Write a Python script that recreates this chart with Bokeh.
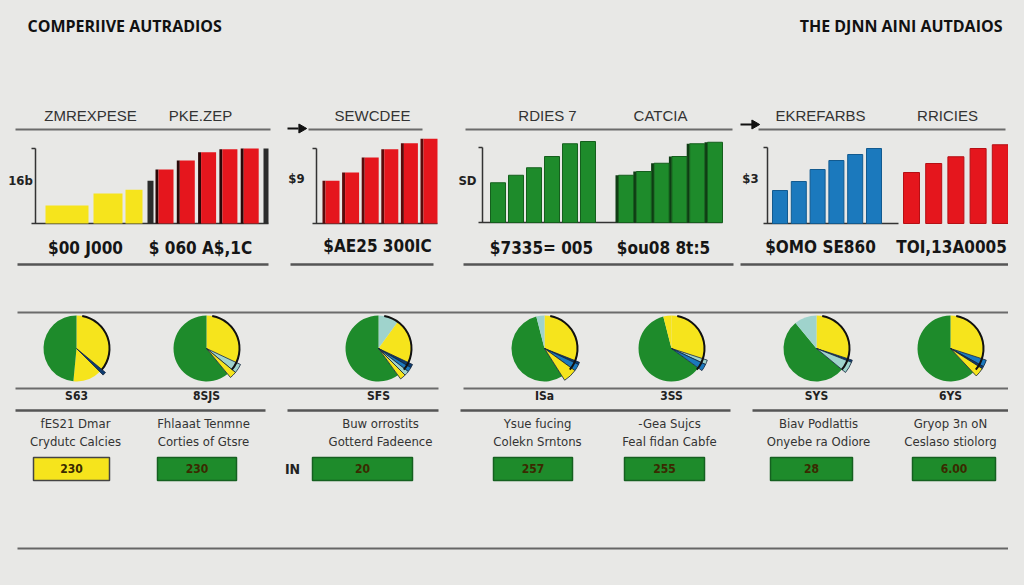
import math
from bokeh.plotting import figure
from bokeh.models import Range1d, GlobalInlineStyleSheet
from bokeh.core.properties import value
from bokeh.embed import file_html
from bokeh.resources import INLINE

# ---------------- data ----------------
title_left = "COMPERIIVE AUTRADIOS"
title_right = "THE DJNN AINI AUTDAIOS"

headers = ["ZMREXPESE", "PKE.ZEP", "SEWCDEE", "RDIES 7", "CATCIA", "EKREFARBS", "RRICIES"]
axis_labels = ["16b", "$9", "SD", "$3"]
value_labels = ["$00 J000", "$ 060 A$,1C", "$AE25 300IC", "$7335= 005",
                "$ou08 8t:5", "$OMO SE860", "TOI,13A0005"]

# bar values (each panel's axis top = 100)
p1_yellow = [24, 40, 45]
p1_dark = [57]
p1_red = [72, 84, 95, 99, 100]
p1_end = [100]
p2_red = [57, 68, 88, 99, 107, 113]
p3_green_a = [53, 63, 73, 88, 105, 108]
p3_green_b = [63, 68, 79, 88, 105, 107]
p4_blue = [44, 56, 72, 84, 92, 100]
p4_red = [68, 80, 89, 100, 105]

pie_labels = ["S63", "8SJS", "SFS", "ISa", "3SS", "SYS", "6YS"]
# slices clockwise from 12 o'clock: (colour, share)
pie_slices = [
    [("yellow", .36), ("navy", .015), ("yellow", .14), ("green", .485)],
    [("yellow", .32), ("teal", .04), ("yellow", .03), ("green", .61)],
    [("teal", .10), ("yellow", .22), ("navy", .015), ("blue", .02), ("teal", .02), ("yellow", .025), ("green", .60)],
    [("yellow", .31), ("navy", .01), ("blue", .03), ("yellow", .06), ("green", .55), ("teal", .04)],
    [("yellow", .30), ("teal", .02), ("blue", .03), ("green", .61), ("yellow", .04)],
    [("yellow", .30), ("navy", .01), ("teal", .05), ("green", .53), ("teal", .11)],
    [("yellow", .30), ("blue", .03), ("navy", .01), ("yellow", .04), ("green", .62)],
]
pie_pulled = [
    [False, True, False, False],
    [False, True, True, False],
    [False, False, True, True, True, True, False],
    [False, True, True, True, False, False],
    [False, True, True, False, False],
    [False, True, True, False, False],
    [False, True, True, True, False],
]

card_line1 = ["fES21 Dmar", "Fhlaaat Tenmne", "Buw orrostits", "Ysue fucing",
              "-Gea Sujcs", "Biav Podlattis", "Gryop 3n oN"]
card_line2 = ["Crydutc Calcies", "Corties of Gtsre", "Gotterd Fadeence", "Colekn Srntons",
              "Feal fidan Cabfe", "Onyebe ra Odiore", "Ceslaso stiolorg"]
card_values = ["230", "230", "20", "257", "255", "28", "6.00"]

# ---------------- style ----------------
BG = "#e8e8e6"
COL = {"green": "#1e8b2b", "yellow": "#f6e41c", "red": "#e5161d", "blue": "#1b79bd",
       "teal": "#9fd3cc", "navy": "#0d3b6e"}
NARROW = "'Liberation Sans Narrow', 'DejaVu Sans Condensed', sans-serif"

p = figure(width=1008, height=569, x_range=Range1d(0, 1008), y_range=Range1d(16, 585),
           output_backend="svg", toolbar_location=None, min_border=0)
p.axis.visible = False
p.grid.visible = False
p.outline_line_color = None
p.background_fill_color = BG
p.border_fill_color = BG
p.stylesheets = [GlobalInlineStyleSheet(css="html,body{background-color:#e8e8e6;}")]


def Y(v):
    return 585 - v


def txt(xs, ys, texts, size, font="Liberation Sans", style="normal", color="#222", align="center"):
    p.text(x=xs, y=[Y(v) for v in ys], text=texts, text_align=align, text_baseline="middle",
           text_font=value(font), text_font_size=f"{size}px", text_font_style=style,
           text_color=color)


def hlines(y, spans, color="#6b6b6b", width=2):
    p.segment(x0=[a for a, b in spans], y0=[Y(y)] * len(spans),
              x1=[b for a, b in spans], y1=[Y(y)] * len(spans),
              line_color=color, line_width=width)


SC = 0.75  # px per unit


def bars(lefts, widths, vals, base, color, edge=None, shadow=None):
    if not isinstance(widths, list):
        widths = [widths] * len(vals)
    tops = [Y(base - v * SC) for v in vals]
    if shadow:
        p.quad(left=[l - 3 for l in lefts], right=lefts, top=tops, bottom=Y(base),
               fill_color=shadow, line_color=None)
    p.quad(left=lefts, right=[l + w for l, w in zip(lefts, widths)], top=tops, bottom=Y(base),
           fill_color=color, line_color=edge, line_width=1)


def seq(x0, step, n):
    return [x0 + i * step for i in range(n)]


# ---------------- titles ----------------
txt([27], [25], [title_left], 16, "Open Sans", "bold", "#111", "left")
txt([1002], [25], [title_right], 16, "Open Sans", "bold", "#111", "right")

# ---------------- bar panels ----------------
txt([90, 200, 372, 547, 660, 820, 947], [115] * 7, headers, 15, "Liberation Sans", "normal", "#333")
hlines(129, [(15, 270), (308, 422), (465, 732), (758, 1005)])

# axis brackets
for ax, top, base, end in [(35, 148, 223, 268), (316, 148, 223, 437), (482, 147, 222, 722), (767, 147, 223, 898)]:
    p.segment(x0=[ax, ax - 4, ax - 4], y0=[Y(top), Y(top), Y(base)],
              x1=[ax, ax, end], y1=[Y(base), Y(top), Y(base)], line_color="#333", line_width=1.5)
txt([20, 296, 467, 750], [180, 178, 180, 178], axis_labels, 13, NARROW, "bold", "#222")

# panel 1
bars([45, 93, 125], [43, 29, 17], p1_yellow, 223, COL["yellow"])
bars([147], 6, p1_dark, 223, "#2b2b2b")
bars(seq(158, 21.3, 5), 15, p1_red, 223, COL["red"], shadow="#2a0707")
bars([263], 5, p1_end, 223, "#2b2b2b")
# panel 2
bars(seq(325, 19.6, 6), 14, p2_red, 223, COL["red"], shadow="#5a0a0a")
# panel 3
bars(seq(490, 18, 6), 15, p3_green_a, 222, COL["green"], edge="#155f1d")
bars(seq(618, 17.8, 6), 15, p3_green_b, 222, COL["green"], edge="#155f1d", shadow="#0f3d14")
# panel 4
bars(seq(772, 18.8, 6), 15, p4_blue, 223, COL["blue"], edge="#125a8f")
bars(seq(903, 22.2, 5), 16, p4_red, 223, COL["red"], edge="#b50f14")

txt([85, 200, 377, 541, 663, 820, 951], [247, 247, 245, 247, 247, 246, 246], value_labels, 17, NARROW, "bold", "#151515")
hlines(264, [(17, 268), (290, 433), (463, 733), (740, 1010)], "#555", 2.5)

# arrow icons
p.segment(x0=[287, 740], y0=[Y(128), Y(124)], x1=[298, 752], y1=[Y(128), Y(124)], line_color="#111", line_width=2)
p.scatter(x=[301, 754], y=[Y(128), Y(124)], marker="triangle", angle=-math.pi / 2, size=9,
          fill_color="#111", line_color="#111")

# ---------------- pies ----------------
hlines(312, [(17, 1020)])
pie_cx = [76, 206, 378, 544, 671, 816, 950]
PY, R = 348, 33
for pulled_pass in (False, True):
    xs, starts, ends, cols, radii = [], [], [], [], []
    for cx, slices, pulls in zip(pie_cx, pie_slices, pie_pulled):
        cum = 0.0
        for (c, frac), pl in zip(slices, pulls):
            a0 = math.pi / 2 - 2 * math.pi * cum
            a1 = math.pi / 2 - 2 * math.pi * (cum + frac)
            cum += frac
            if pl != pulled_pass:
                continue
            xs.append(cx)
            starts.append(a1)
            ends.append(a0)
            cols.append(COL[c])
            radii.append(R * (1.14 if pl else 1.0))
    p.wedge(x=xs, y=[Y(PY)] * len(xs), radius=radii, start_angle=starts, end_angle=ends,
            fill_color=cols, line_color="#10223a" if pulled_pass else None, line_width=0.8)
p.arc(x=pie_cx, y=[Y(PY)] * 7, radius=R, start_angle=math.radians(-40), end_angle=math.radians(80),
      line_color="#111", line_width=2)

hlines(388, [(15, 438), (463, 1020)])
txt(pie_cx, [395] * 7, pie_labels, 12, NARROW, "bold", "#222")

# ---------------- cards ----------------
hlines(410, [(15, 265), (287, 438), (460, 730), (752, 1020)], "#555", 2.5)
card_cx = [75, 203, 380, 537, 669, 818, 950]
txt(card_cx, [423] * 7, card_line1, 13, NARROW, "normal", "#333")
txt(card_cx, [441] * 7, card_line2, 13, NARROW, "normal", "#333")

box_l = [33, 157, 312, 493, 624, 770, 912]
box_r = [109, 236, 412, 572, 704, 852, 995]
box_cols = [COL["yellow"]] + [COL["green"]] * 6
p.quad(left=box_l, right=box_r, top=Y(457), bottom=Y(480), fill_color=box_cols,
       line_color=["#444"] + ["#156020"] * 6, line_width=1.5)
txt([(a + b) / 2 for a, b in zip(box_l, box_r)], [468] * 7, card_values, 12, NARROW, "bold",
    "#3a2a00")
txt([292], [468], ["IN"], 14, NARROW, "bold", "#222")

hlines(548, [(17, 1022)], "#666", 2)

open("out.html", "w").write(file_html(p, INLINE))
